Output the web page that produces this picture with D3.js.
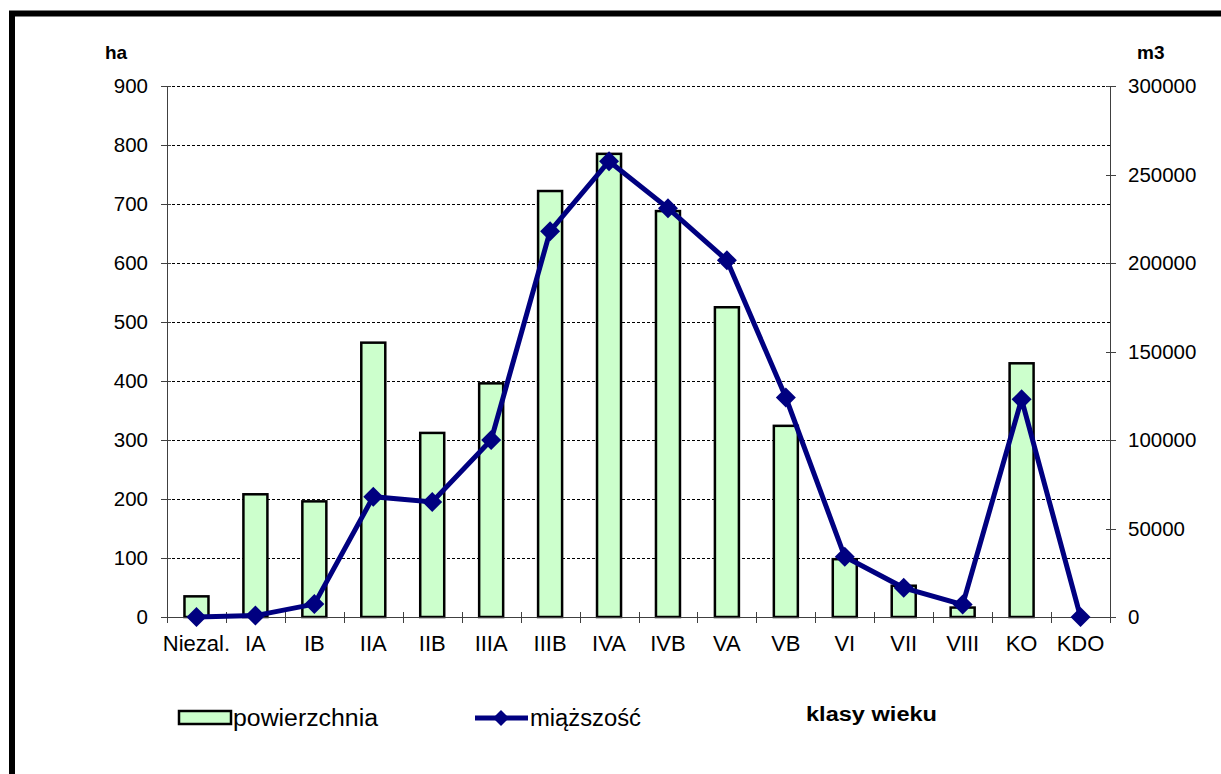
<!DOCTYPE html>
<html>
<head>
<meta charset="utf-8">
<style>
    body { margin: 0; background: #fff; font-family: 'Liberation Sans', Arial, sans-serif; }
    svg { position: absolute; top: 0; left: 0; }
    .tick-label { font-size: 20.5px; fill: #000; }
    .unit { font-size: 19px; font-weight: bold; }
    .legend-text { font-size: 23px; }
</style>
<script src="https://d3js.org/d3.v7.min.js"></script>
</head>
<body>
<script>
// age classes
const categories = ["Niezal.", "IA", "IB", "IIA", "IIB", "IIIA", "IIIB", "IVA", "IVB", "VA", "VB", "VI", "VII", "VIII", "KO", "KDO"]
// area, ha
const powierzchnia = [35, 208, 196, 465, 312, 396, 722, 785, 688, 525, 324, 98, 53, 16, 430, 0]
// volume, m3
const miazszosc = [0, 800, 7300, 68000, 65000, 100000, 218000, 257500, 231000, 201500, 124000, 34000, 16500, 7000, 123000, 0]
const leftTicks = [0, 100, 200, 300, 400, 500, 600, 700, 800, 900]
const rightTicks = [0, 50000, 100000, 150000, 200000, 250000, 300000]

const W = 1221, H = 774
const plot = { left: 167, right: 1110, top: 86, bottom: 617 }

const svg = d3.select("body").append("svg")
    .attr("width", W).attr("height", H)

// outer frame (runs off the right and bottom edge)
svg.append("rect")
    .attr("x", 12).attr("y", 13.5)
    .attr("width", W + 20).attr("height", H + 20)
    .attr("fill", "none").attr("stroke", "#000").attr("stroke-width", 6)

////////////// scales //////////////
const x = d3.scaleBand().domain(categories).range([plot.left, plot.right])
const yL = d3.scaleLinear().domain([0, 900]).range([plot.bottom, plot.top])
const yR = d3.scaleLinear().domain([0, 300000]).range([plot.bottom, plot.top])

////////////// gridlines //////////////
svg.append("g").selectAll("line")
    .data(leftTicks.filter(d => d > 0))
    .join("line")
    .attr("x1", plot.left).attr("x2", plot.right)
    .attr("y1", d => Math.round(yL(d)) + 0.5).attr("y2", d => Math.round(yL(d)) + 0.5)
    .attr("stroke", "#000").attr("stroke-width", 1).attr("stroke-dasharray", "3,2")

////////////// bars //////////////
const barW = 24
svg.append("g").selectAll("rect")
    .data(categories.map((c, i) => ({ c, v: powierzchnia[i] })).filter(d => d.v > 0))
    .join("rect")
    .attr("x", d => x(d.c) + x.bandwidth() / 2 - barW / 2)
    .attr("y", d => yL(d.v))
    .attr("width", barW)
    .attr("height", d => yL(0) - yL(d.v))
    .attr("fill", "#ccffcc").attr("stroke", "#000").attr("stroke-width", 2.5)

////////////// axes //////////////
const axisColor = "#404040"
const axes = svg.append("g").attr("stroke", axisColor).attr("stroke-width", 1)
// left
axes.append("line").attr("x1", plot.left + 0.5).attr("x2", plot.left + 0.5).attr("y1", plot.top).attr("y2", plot.bottom)
axes.selectAll(".tl").data(leftTicks).join("line")
    .attr("x1", plot.left - 6).attr("x2", plot.left + 4)
    .attr("y1", d => Math.round(yL(d)) + 0.5).attr("y2", d => Math.round(yL(d)) + 0.5)
// right
axes.append("line").attr("x1", plot.right + 0.5).attr("x2", plot.right + 0.5).attr("y1", plot.top).attr("y2", plot.bottom)
axes.selectAll(".tr").data(rightTicks).join("line")
    .attr("x1", plot.right - 4).attr("x2", plot.right + 6)
    .attr("y1", d => Math.round(yR(d)) + 0.5).attr("y2", d => Math.round(yR(d)) + 0.5)
// bottom
axes.append("line").attr("x1", plot.left).attr("x2", plot.right).attr("y1", plot.bottom + 0.5).attr("y2", plot.bottom + 0.5)
axes.selectAll(".tb").data(categories.concat(["end"])).join("line")
    .attr("x1", (d, i) => Math.round(plot.left + i * x.step()) + 0.5)
    .attr("x2", (d, i) => Math.round(plot.left + i * x.step()) + 0.5)
    .attr("y1", plot.bottom - 5).attr("y2", plot.bottom + 6)

// tick labels
svg.append("g").selectAll("text").data(leftTicks).join("text")
    .attr("class", "tick-label")
    .attr("x", 148).attr("y", d => yL(d) + 7)
    .attr("text-anchor", "end")
    .text(d => d)

svg.append("g").selectAll("text").data(rightTicks).join("text")
    .attr("class", "tick-label")
    .attr("x", 1128).attr("y", d => yR(d) + 7)
    .text(d => d)

svg.append("g").selectAll("text").data(categories).join("text")
    .attr("class", "tick-label")
    .style("font-size", "22px")
    .attr("x", d => x(d) + x.bandwidth() / 2).attr("y", 651)
    .attr("text-anchor", "middle")
    .text(d => d)

// units
svg.append("text").attr("class", "unit").attr("x", 105).attr("y", 59).text("ha")
svg.append("text").attr("class", "unit").attr("x", 1137).attr("y", 59).text("m3")

////////////// line //////////////
const navy = "#000080"
const pts = categories.map((c, i) => [x(c) + x.bandwidth() / 2, yR(miazszosc[i])])
svg.append("path")
    .attr("d", d3.line()(pts))
    .attr("fill", "none").attr("stroke", navy).attr("stroke-width", 5)
    .attr("stroke-linejoin", "miter")

const diamond = (cx, cy, r) => `M${cx},${cy - r}L${cx + r},${cy}L${cx},${cy + r}L${cx - r},${cy}Z`
svg.append("g").selectAll("path").data(pts).join("path")
    .attr("d", d => diamond(d[0], d[1], 10))
    .attr("fill", navy)

////////////// legend //////////////
svg.append("rect").attr("x", 179).attr("y", 711).attr("width", 52).attr("height", 13)
    .attr("fill", "#ccffcc").attr("stroke", "#000").attr("stroke-width", 2.5)
svg.append("text").attr("class", "legend-text").attr("x", 233).attr("y", 726)
    .attr("textLength", 145).attr("lengthAdjust", "spacingAndGlyphs").text("powierzchnia")

svg.append("line").attr("x1", 475).attr("x2", 528).attr("y1", 718).attr("y2", 718)
    .attr("stroke", navy).attr("stroke-width", 5)
svg.append("path").attr("d", diamond(501, 718, 8)).attr("fill", navy)
svg.append("text").attr("class", "legend-text").attr("x", 530).attr("y", 726)
    .attr("textLength", 111).attr("lengthAdjust", "spacingAndGlyphs").text("miąższość")

svg.append("text").attr("x", 806).attr("y", 721)
    .style("font-size", "20px").style("font-weight", "bold")
    .attr("textLength", 131).attr("lengthAdjust", "spacingAndGlyphs")
    .text("klasy wieku")
</script>
</body>
</html>
